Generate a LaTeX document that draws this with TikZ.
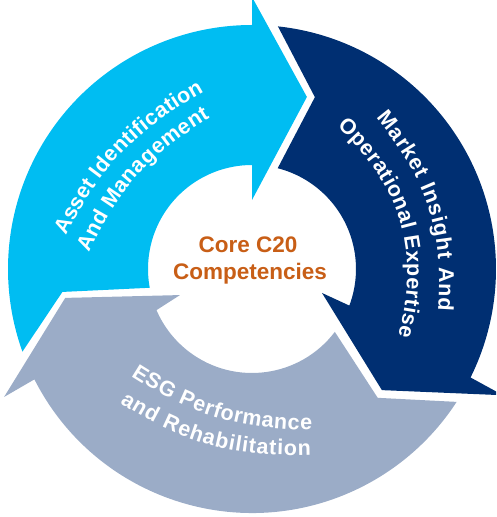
\documentclass[tikz,border=0pt]{standalone}
\usepackage{fontspec}
\setmainfont{Liberation Sans}
\usetikzlibrary{decorations.text}
\definecolor{cyanc}{RGB}{0,189,242}
\definecolor{navyc}{RGB}{0,47,114}
\definecolor{grayc}{RGB}{155,172,199}
\definecolor{orangec}{RGB}{200,94,22}
\newcommand\ringfont{\fontsize{21.5}{21.5}\selectfont\bfseries}
\begin{document}
\begin{tikzpicture}[x=1pt,y=1pt,
  ringtext/.style={decorate, decoration={text along path, text align=fit to path, text color=white, text={|\ringfont|#1}}},
  coretext/.style={font=\fontsize{22.5}{22.5}\selectfont\bfseries, text=orangec, inner sep=0pt, anchor=base}]
\useasboundingbox (0,0) rectangle (496,517);
\clip (0,0) rectangle (496,517);
\begin{scope}[shift={(252,248)}]
  % gray arrow (bottom)
  \fill[grayc] (-33:244) -- (-45.7:180) -- (-37.2:104)
    arc[start angle=-37.2, end angle=-156.7, radius=104]
    -- (199.9:76.6) -- (188.8:189) -- (207.3:279) -- (206.9:244)
    arc[start angle=206.9, end angle=327, radius=244] -- cycle;
  % navy arrow (right)
  \fill[navyc] (83.9:244) -- (69.9:183) -- (75.7:104)
    arc[start angle=75.7, end angle=-20.6, radius=104]
    -- (-18.9:74) -- (-43:177.6) -- (-26.7:281) -- (-26.4:244)
    arc[start angle=-26.4, end angle=83.9, radius=244] -- cycle;
  % cyan arrow (left/top)
  \fill[cyanc] (199.8:244) -- (186.9:191) -- (190.4:104)
    arc[start angle=190.4, end angle=90, radius=104]
    -- (90:69) -- (72.3:180.6) -- (90:272) -- (90:244)
    arc[start angle=90, end angle=199.8, radius=244] -- cycle;
\end{scope}
% ring texts
\path[ringtext={Asset Identification}] (66,281) to[bend left=17] (204,425);
\path[ringtext={And Management}] (89,264) to[bend left=17] (210,399);
\path[ringtext={Market Insight And}] (376,399) to[bend left=22] (438,206);
\path[ringtext={Operational Expertise}] (337,390) to[bend left=32] (398,181);
\path[ringtext={ESG Performance}] (131,141) to[bend right=16] (312,87);
\path[ringtext={and Rehabilitation}] (120,114) to[bend right=17] (311,62);
% centre
\node[coretext] (core1) at (248,264) {Core C20};
\node[coretext] (core2) at (250,237) {Competencies};
\end{tikzpicture}
\end{document}
